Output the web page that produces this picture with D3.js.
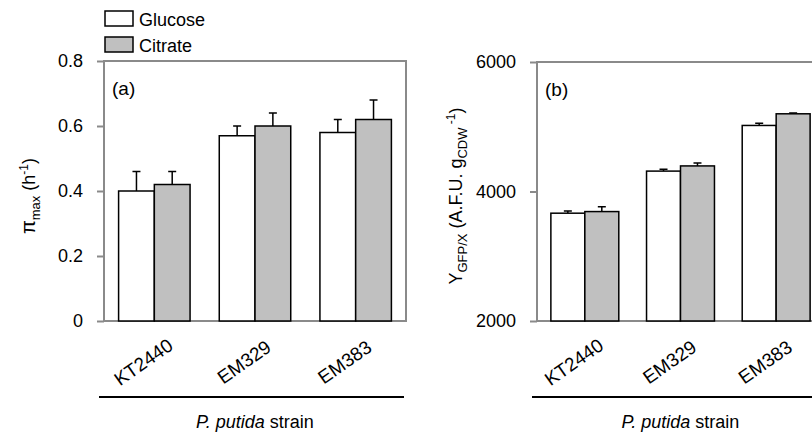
<!DOCTYPE html>
<html>
<head>
<meta charset="utf-8">
<script src="https://cdn.jsdelivr.net/npm/d3@7"></script>
<style>
  body { margin: 0; background: #fff; }
  svg text { font-family: "Liberation Sans", Arial, sans-serif; fill: #000; }
</style>
</head>
<body>
<svg id="chart" width="812" height="436"></svg>
<script>
// data
const strains = ['KT2440', 'EM329', 'EM383'];
const carbon = ['Glucose', 'Citrate'];

const piGlucose = [0.40, 0.57, 0.58];
const piGlucoseErr = [0.06, 0.03, 0.04];
const piCitrate = [0.42, 0.60, 0.62];
const piCitrateErr = [0.04, 0.04, 0.06];

const yGlucose = [3665, 4315, 5020];
const yGlucoseErr = [35, 30, 35];
const yCitrate = [3690, 4395, 5200];
const yCitrateErr = [75, 45, 12];

const piTicks = [0, 0.2, 0.4, 0.6, 0.8];
const yTicks = [2000, 4000, 6000];

const fills = ['#ffffff', '#c0c0c0'];
const frameColor = '#8a8a8a';

const svg = d3.select('#chart');

function drawPanel(opt) {
  const g = svg.append('g');
  const x = d3.scaleBand().domain(strains).range([opt.left, opt.right])
    .paddingInner(0.29).paddingOuter(0.145);
  const x1 = d3.scaleBand().domain(carbon).range([0, x.bandwidth()]);
  const y = d3.scaleLinear().domain(opt.domain).range([opt.bottom, opt.top]);

  // frame
  g.append('rect')
    .attr('x', opt.left).attr('y', opt.top)
    .attr('width', opt.right - opt.left).attr('height', opt.bottom - opt.top)
    .attr('fill', 'none').attr('stroke', frameColor).attr('stroke-width', 2);

  // y axis
  const yAxis = d3.axisLeft(y).tickValues(opt.ticks).tickSize(7).tickPadding(14)
    .tickFormat(opt.format);
  const ag = g.append('g').attr('transform', `translate(${opt.left},0)`).call(yAxis);
  ag.select('.domain').remove();
  ag.selectAll('line').attr('stroke', frameColor).attr('stroke-width', 2);
  ag.selectAll('text').style('font-size', '18px')
    .style('font-family', '"Liberation Sans", Arial, sans-serif');

  // bars
  const rows = strains.map((s, i) => ({
    strain: s,
    vals: [
      { c: carbon[0], v: opt.series[0][i], e: opt.errs[0][i] },
      { c: carbon[1], v: opt.series[1][i], e: opt.errs[1][i] }
    ]
  }));
  const grp = g.selectAll('.grp').data(rows).enter().append('g')
    .attr('transform', d => `translate(${x(d.strain)},0)`);

  // error bars (upper only) drawn behind bars
  grp.selectAll('.err').data(d => d.vals).enter().append('path')
    .attr('d', d => {
      const cx = x1(d.c) + x1.bandwidth() / 2;
      const top = y(d.v + d.e);
      return `M${cx},${y(d.v)}V${top}M${cx - 4},${top}H${cx + 4}`;
    })
    .attr('stroke', '#000').attr('stroke-width', 1.5).attr('fill', 'none');

  grp.selectAll('.bar').data(d => d.vals).enter().append('rect')
    .attr('x', d => x1(d.c))
    .attr('y', d => y(d.v))
    .attr('width', x1.bandwidth())
    .attr('height', d => y(opt.domain[0]) - y(d.v))
    .attr('fill', (d, i) => fills[i])
    .attr('stroke', '#000').attr('stroke-width', 1.5);

  // x tick labels, rotated
  g.selectAll('.xl').data(strains).enter().append('text')
    .attr('transform', d => `translate(${x(d) + x.bandwidth() / 2 - 11},362) rotate(-35)`)
    .attr('text-anchor', 'middle').attr('dy', '0.35em')
    .style('font-size', '19px')
    .text(d => d);

  // rule under labels and axis title
  g.append('line')
    .attr('x1', opt.left - 5).attr('x2', opt.right - 2)
    .attr('y1', 397).attr('y2', 397)
    .attr('stroke', '#000').attr('stroke-width', 2);
  const xt = g.append('text')
    .attr('x', (opt.left + opt.right) / 2).attr('y', 428)
    .attr('text-anchor', 'middle').style('font-size', '18px');
  xt.append('tspan').style('font-style', 'italic').text('P. putida');
  xt.append('tspan').text(' strain');

  // panel letter
  g.append('text').attr('x', opt.left + 8).attr('y', opt.top + 34)
    .style('font-size', '19px').text(opt.letter);

  // y title
  const yt = g.append('text')
    .attr('transform', `translate(${opt.titleX},196) rotate(-90)`)
    .attr('text-anchor', 'middle').style('font-size', '18px');
  opt.title(yt);
}

drawPanel({
  left: 104, right: 406, top: 61, bottom: 321,
  domain: [0, 0.8], ticks: piTicks,
  format: d => d === 0 ? '0' : d3.format('.1f')(d),
  series: [piGlucose, piCitrate], errs: [piGlucoseErr, piCitrateErr],
  letter: '(a)', titleX: 35,
  title: t => {
    t.append('tspan').style('font-size', '20px').text('π');
    t.append('tspan').attr('dy', 5).style('font-size', '13px').text('max');
    t.append('tspan').attr('dy', -5).text(' (h');
    t.append('tspan').attr('dy', -7).style('font-size', '12px').text('-1');
    t.append('tspan').attr('dy', 7).text(')');
  }
});

drawPanel({
  left: 537, right: 824, top: 62, bottom: 321,
  domain: [2000, 6000], ticks: yTicks,
  format: d3.format('d'),
  series: [yGlucose, yCitrate], errs: [yGlucoseErr, yCitrateErr],
  letter: '(b)', titleX: 462,
  title: t => {
    t.append('tspan').text('Y');
    t.append('tspan').attr('dy', 5).style('font-size', '13px').text('GFP/X');
    t.append('tspan').attr('dy', -5).text(' (A.F.U. g');
    t.append('tspan').attr('dy', 5).style('font-size', '13px').text('CDW');
    t.append('tspan').attr('dy', -12).style('font-size', '12px').text(' -1');
    t.append('tspan').attr('dy', 7).text(')');
  }
});

// legend
const leg = svg.append('g').attr('transform', 'translate(105,11)');
leg.selectAll('rect').data(carbon).enter().append('rect')
  .attr('x', 0).attr('y', (d, i) => i * 26)
  .attr('width', 28).attr('height', 15)
  .attr('fill', (d, i) => fills[i])
  .attr('stroke', '#000').attr('stroke-width', 1.5);
leg.selectAll('text').data(carbon).enter().append('text')
  .attr('x', 34).attr('y', (d, i) => i * 26 + 15)
  .style('font-size', '18px')
  .text(d => d);
</script>
</body>
</html>
